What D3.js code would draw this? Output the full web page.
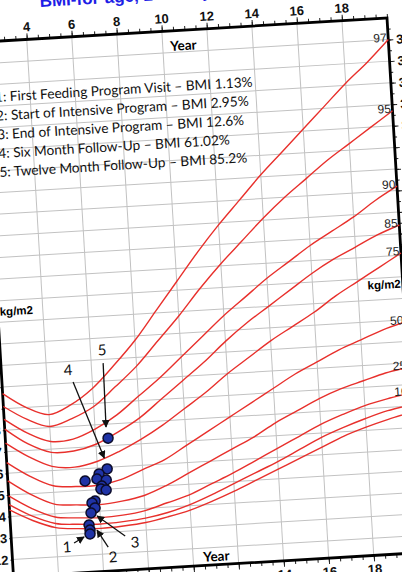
<!DOCTYPE html>
<html>
<head>
<meta charset="utf-8">
<script src="https://cdn.jsdelivr.net/npm/d3@7"></script>
<style>
  body { margin: 0; background: #fff; }
  svg { display: block; }
</style>
</head>
<body>
<div id="viz"></div>
<script>
// percentile curves, BMI by age (years)
var ages = [2,3,4,5,6,7,8,9,10,11,12,13,14,15,16,17,18,19,20];
var p97 = [19.7,19.0,18.6,19.0,19.7,20.7,21.8,23.1,24.4,25.7,26.9,28.0,29.1,30.1,31.1,32.1,33.1,34.0,35.0];
var p95 = [19.1,18.45,18.05,18.35,18.85,19.7,20.6,21.7,22.8,24.0,25.1,26.1,27.1,28.0,28.8,29.6,30.3,31.0,31.7];
var p90 = [18.5,17.8,17.35,17.4,17.8,18.4,19.2,20.0,20.9,21.8,22.7,23.5,24.3,25.0,25.7,26.3,26.9,27.6,28.2];
var p85 = [18.05,17.3,16.85,16.85,17.1,17.6,18.2,19.0,19.8,20.6,21.5,22.3,23.0,23.7,24.4,25.0,25.5,26.0,26.4];
var p75 = [17.4,16.7,16.2,16.1,16.3,16.7,17.2,17.8,18.5,19.2,20.0,20.7,21.4,22.0,22.6,23.3,23.9,24.5,25.1];
var p50 = [16.5,15.8,15.3,15.2,15.2,15.4,15.8,16.2,16.8,17.4,18.0,18.6,19.2,19.8,20.3,20.8,21.2,21.6,21.9];
var p25 = [15.65,14.95,14.45,14.35,14.3,14.4,14.6,15.0,15.5,16.0,16.5,17.0,17.6,18.1,18.6,19.0,19.3,19.6,19.8];
var p10 = [14.95,14.3,13.85,13.75,13.7,13.75,13.9,14.2,14.5,14.95,15.4,15.9,16.4,16.9,17.4,17.8,18.15,18.4,18.6];
var p5  = [14.55,13.95,13.55,13.45,13.4,13.45,13.55,13.75,14.05,14.45,14.9,15.35,15.8,16.3,16.8,17.2,17.55,17.85,18.05];
var p3  = [14.3,13.75,13.36,13.25,13.2,13.25,13.35,13.55,13.8,14.15,14.55,15.0,15.45,15.9,16.35,16.8,17.15,17.45,17.7];
var pctNames = ["97","95","90","85","75","50","25","10","5","3"];
var pctSeries = [p97,p95,p90,p85,p75,p50,p25,p10,p5,p3];

// patient visits
var visitAge = [6.55,6.43,6.06,5.95,6.36,5.42,6.15,6.10,6.33,5.81,5.67,5.79,5.60,5.48,5.51,5.50];
var visitBmi = [17.35,15.93,15.72,15.49,15.42,15.43,15.15,15.02,14.96,14.48,14.40,14.16,13.94,13.39,13.15,12.97];

// numbered call-outs
var noteText = ["1","2","3","4","5"];
var noteAge = [4.45,6.46,7.47,4.96,6.52];
var noteBmi = [12.43,11.84,12.47,20.61,21.44];
var arrowFromAge = [4.77,6.27,7.05,5.15,6.53];
var arrowFromBmi = [12.60,12.31,12.78,20.04,20.83];
var arrowToAge = [5.23,5.82,5.86,6.33,6.49];
var arrowToBmi = [12.85,13.13,13.78,16.44,17.87];

var legendLines = [
  "1: First Feeding Program Visit \u2013 BMI 1.13%",
  "2: Start of Intensive Program \u2013 BMI 2.95%",
  "3: End of Intensive Program \u2013 BMI 12.6%",
  "4: Six Month Follow-Up \u2013 BMI 61.02%",
  "5: Twelve Month Follow-Up \u2013 BMI 85.2%"
];
var yearLabels = [2,4,6,8,10,12,14,16,18];
var bmiLabels = d3.range(12, 36);

var width = 402, height = 572;

var x = d3.scaleLinear().domain([2, 20]).range([-406, 0]);
var y = d3.scaleLinear().domain([11.2, 36]).range([535.7, 0]);

var svg = d3.select('#viz').append('svg')
    .attr('width', width)
    .attr('height', height);

svg.append('defs').append('marker')
    .attr('id', 'ah')
    .attr('viewBox', '0 0 10 10')
    .attr('refX', 9).attr('refY', 5)
    .attr('markerWidth', 6).attr('markerHeight', 6)
    .attr('orient', 'auto')
  .append('path')
    .attr('d', 'M0,0L10,5L0,10z')
    .attr('fill', '#111');

// the photographed chart sits slightly tilted
var g = svg.append('g').attr('transform', 'translate(387,18) rotate(-3.4)');

// grid
g.selectAll('.hgrid').data(bmiLabels).enter().append('line')
    .attr('x1', x(2)).attr('x2', x(20))
    .attr('y1', function(d) { return y(d); })
    .attr('y2', function(d) { return y(d); })
    .attr('stroke', '#c2c2c2').attr('stroke-width', 1);

g.selectAll('.vgrid').data(d3.range(4, 20, 2)).enter().append('line')
    .attr('y1', y(36)).attr('y2', y(11.2))
    .attr('x1', function(d) { return x(d); })
    .attr('x2', function(d) { return x(d); })
    .attr('stroke', '#c2c2c2').attr('stroke-width', 1);

// title (mostly cut off in the photo)
g.append('text')
    .attr('x', x(4.67)).attr('y', y(36) - 31.5)
    .attr('fill', '#1d1de6')
    .style('font', 'bold 17px "Liberation Sans", Arial, sans-serif')
    .text('BMI-for-age, 2 to 20 years');

// axes
function styleAxis(sel) {
  sel.select('.domain').remove();
  sel.selectAll('text').style('font', 'bold 13px "Liberation Sans", Arial, sans-serif').attr('fill', '#111');
  sel.selectAll('line').attr('stroke', '#222');
}

g.append('g')
    .call(d3.axisTop(x).tickValues(d3.range(2, 20.01, 0.5)).tickSize(4).tickFormat(''))
    .call(styleAxis);
g.append('g')
    .call(d3.axisTop(x).tickValues(yearLabels).tickSize(6).tickPadding(2))
    .call(styleAxis);

g.append('g')
    .attr('transform', 'translate(0,' + y(11.2) + ')')
    .call(d3.axisBottom(x).tickValues(d3.range(2, 20.01, 0.5)).tickSize(4).tickFormat(''))
    .call(styleAxis);
g.append('g')
    .attr('transform', 'translate(0,' + y(11.2) + ')')
    .call(d3.axisBottom(x).tickValues(yearLabels).tickSize(6).tickPadding(3))
    .call(styleAxis);

g.append('g')
    .attr('transform', 'translate(' + x(20) + ',0)')
    .call(d3.axisRight(y).tickValues(d3.range(11.5, 36, 0.5)).tickSize(3).tickFormat(''))
    .call(styleAxis);
g.append('g')
    .attr('transform', 'translate(' + x(20) + ',0)')
    .call(d3.axisRight(y).tickValues(bmiLabels).tickSize(5).tickPadding(3))
    .call(styleAxis);

g.append('g')
    .attr('transform', 'translate(' + x(2) + ',0)')
    .call(d3.axisLeft(y).tickValues(bmiLabels).tickSize(2).tickPadding(2))
    .call(styleAxis);

// frame
g.append('rect')
    .attr('x', x(2)).attr('y', y(36))
    .attr('width', x(20) - x(2)).attr('height', y(11.2) - y(36))
    .attr('fill', 'none').attr('stroke', '#000').attr('stroke-width', 2.8);

// axis captions
g.append('text')
    .attr('x', x(10.92)).attr('y', y(35.07))
    .attr('text-anchor', 'middle')
    .style('font', 'bold 13.5px Lato, sans-serif')
    .text('Year');
g.append('text')
    .attr('x', x(11.03)).attr('y', y(11.37))
    .attr('text-anchor', 'middle')
    .style('font', 'bold 13.5px Lato, sans-serif')
    .text('Year');
g.append('text')
    .attr('x', x(2) + 2).attr('y', y(23.3))
    .style('font', 'bold 11.5px "Liberation Sans Narrow", "Liberation Sans", sans-serif')
    .text('kg/m2');
g.append('text')
    .attr('x', x(20) - 2).attr('y', y(23.5))
    .attr('text-anchor', 'end')
    .style('font', 'bold 11.5px "Liberation Sans Narrow", "Liberation Sans", sans-serif')
    .text('kg/m2');

// percentile curves
var line = d3.line()
    .x(function(d, i) { return x(ages[i]); })
    .y(function(d) { return y(d); })
    .curve(d3.curveCatmullRom);

g.selectAll('.pct').data(pctSeries).enter().append('path')
    .attr('d', line)
    .attr('fill', 'none')
    .attr('stroke', '#e8302c')
    .attr('stroke-width', 1.4);

g.selectAll('.pctlab').data(pctSeries).enter().append('text')
    .attr('x', x(20) - 1.5)
    .attr('y', function(d) { return y(d[d.length - 1]) + 2; })
    .attr('text-anchor', 'end')
    .attr('fill', '#222')
    .style('font', '12px "Liberation Sans Narrow", "Liberation Sans", sans-serif')
    .text(function(d, i) { return pctNames[i]; });

// legend
g.append('text')
    .attr('x', x(2.44)).attr('y', y(33.43) + 5)
    .style('font', '13.7px Lato, sans-serif')
    .attr('fill', '#111')
  .selectAll('tspan').data(legendLines).enter().append('tspan')
    .attr('x', x(2.44))
    .attr('dy', function(d, i) { return i === 0 ? 0 : 18.8; })
    .text(function(d) { return d; });

// arrows and numbers
g.selectAll('.arrow').data(noteText).enter().append('line')
    .attr('x1', function(d, i) { return x(arrowFromAge[i]); })
    .attr('y1', function(d, i) { return y(arrowFromBmi[i]); })
    .attr('x2', function(d, i) { return x(arrowToAge[i]); })
    .attr('y2', function(d, i) { return y(arrowToBmi[i]); })
    .attr('stroke', '#111').attr('stroke-width', 1.3)
    .attr('marker-end', 'url(#ah)');

g.selectAll('.note').data(noteText).enter().append('text')
    .attr('x', function(d, i) { return x(noteAge[i]); })
    .attr('y', function(d, i) { return y(noteBmi[i]); })
    .attr('dy', '0.35em')
    .attr('text-anchor', 'middle')
    .style('font', '15px Lato, sans-serif')
    .attr('fill', '#111')
    .text(function(d) { return d; });

// visits
g.selectAll('.visit').data(visitAge).enter().append('circle')
    .attr('cx', function(d) { return x(d); })
    .attr('cy', function(d, i) { return y(visitBmi[i]); })
    .attr('r', 5)
    .attr('fill', '#1f33a6')
    .attr('stroke', '#0b0b2a')
    .attr('stroke-width', 1.5);
</script>
</body>
</html>
